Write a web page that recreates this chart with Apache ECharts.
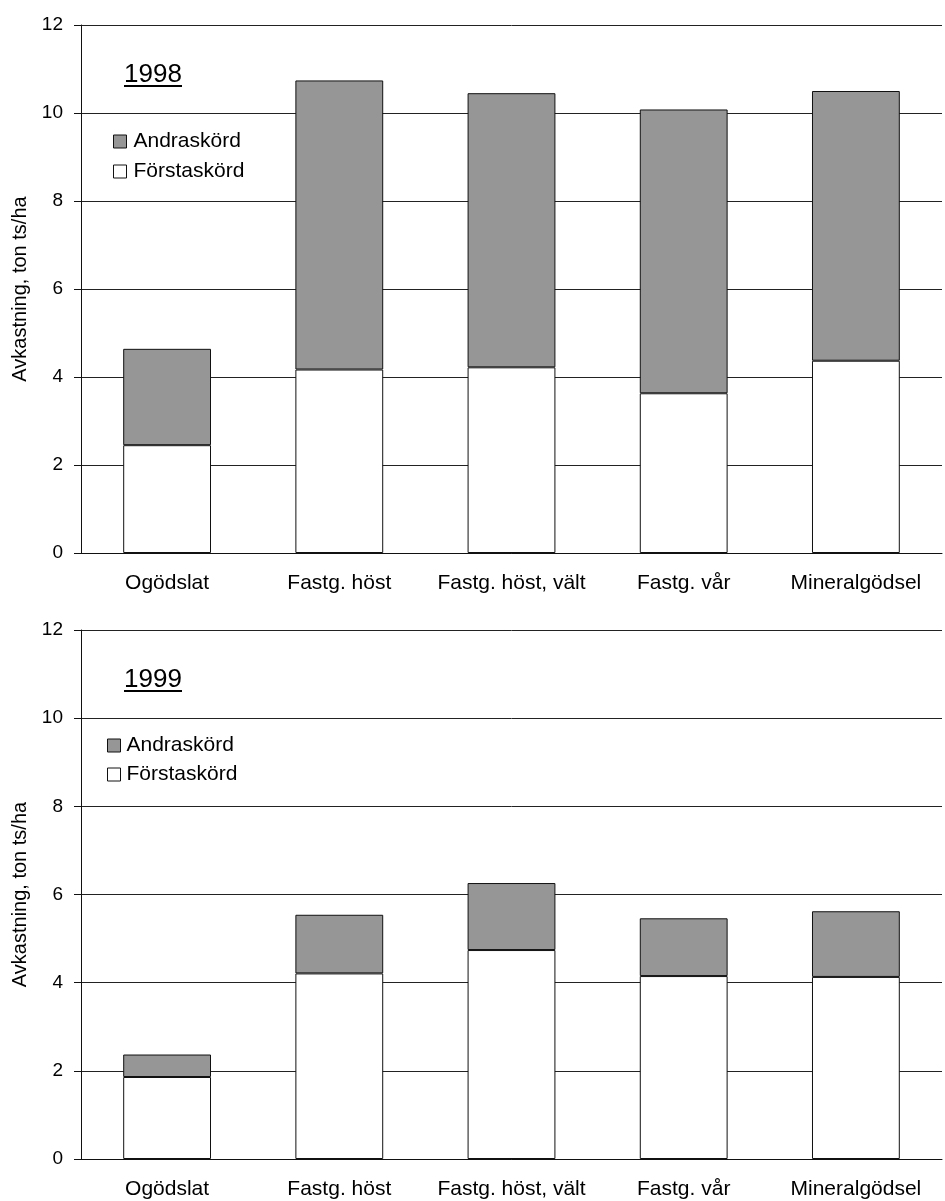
<!DOCTYPE html>
<html>
<head>
<meta charset="utf-8">
<script src="https://cdn.jsdelivr.net/npm/echarts@6/dist/echarts.min.js"></script>
<style>
html,body{margin:0;padding:0;background:#fff;}
#c{width:945px;height:1201px;}
</style>
</head>
<body>
<div id="c"></div>
<script>
const categories = ['Ogödslat', 'Fastg. höst', 'Fastg. höst, vält', 'Fastg. vår', 'Mineralgödsel'];
const yTicks = [0, 2, 4, 6, 8, 10, 12];
const first1998 = [2.45, 4.17, 4.22, 3.63, 4.37];
const second1998 = [2.19, 6.57, 6.23, 6.45, 6.13];
const first1999 = [1.86, 4.21, 4.74, 4.15, 4.13];
const second1999 = [0.51, 1.33, 1.52, 1.31, 1.49];
const years = ['1998', '1999'];

const FONT = 'Liberation Sans, Arial, sans-serif';
const chart = echarts.init(document.getElementById('c'), null, {renderer: 'canvas'});

const grids = [
  {left: 81, right: 3, top: 25, height: 528},
  {left: 81, right: 3, top: 630, height: 529}
];

function xAxis(i) {
  return {
    type: 'category', gridIndex: i, data: categories,
    axisLine: {lineStyle: {color: '#111', width: 1}},
    axisTick: {show: false},
    axisLabel: {color: '#000', fontSize: 21, fontFamily: FONT, margin: 20, interval: 0, hideOverlap: false}
  };
}
function yAxis(i) {
  return {
    type: 'value', gridIndex: i, min: yTicks[0], max: yTicks[yTicks.length - 1], interval: 2,
    name: 'Avkastning, ton ts/ha', nameLocation: 'middle', nameGap: 49,
    nameTextStyle: {color: '#000', fontSize: 20, fontFamily: FONT},
    axisLine: {show: true, lineStyle: {color: '#111', width: 1}},
    axisTick: {show: true, inside: false, length: 7, lineStyle: {color: '#111'}},
    axisLabel: {color: '#000', fontSize: 19, fontFamily: FONT, margin: 18},
    splitLine: {show: true, lineStyle: {color: '#222', width: 1}}
  };
}
function bar(name, data, i, color) {
  return {
    name: name, type: 'bar', stack: 'y' + i, xAxisIndex: i, yAxisIndex: i,
    data: data, barWidth: '51%',
    itemStyle: {color: color, borderColor: '#111', borderWidth: 1},
    emphasis: {disabled: true}
  };
}
function legend(left, top, gap, pad) {
  return {
    orient: 'vertical', left: left, top: top, padding: 0,
    itemWidth: 13, itemHeight: 13, itemGap: gap, icon: 'rect',
    data: ['Andraskörd', 'Förstaskörd'],
    itemStyle: {borderColor: '#111', borderWidth: 1},
    textStyle: {color: '#000', fontSize: 21, lineHeight: 21, fontFamily: FONT, padding: [0, 0, 0, pad]},
    selectedMode: false
  };
}
function yearLabel(text, x, top) {
  return {
    type: 'group', x: x, y: top,
    children: [
      {type: 'text', x: 0, y: 0, style: {text: text, fontSize: 26, fontFamily: FONT, fill: '#000', verticalAlign: 'top', align: 'left'}},
      {type: 'rect', shape: {x: 0, y: 23, width: 58, height: 2}, style: {fill: '#000'}}
    ]
  };
}

chart.setOption({
  animation: false,
  backgroundColor: '#fff',
  grid: grids,
  xAxis: [xAxis(0), xAxis(1)],
  yAxis: [yAxis(0), yAxis(1)],
  legend: [legend(113, 131, 9, 2), legend(107, 735, 8, 1)],
  graphic: [yearLabel(years[0], 124, 62), yearLabel(years[1], 124, 667)],
  series: [
    bar('Förstaskörd', first1998, 0, '#ffffff'),
    bar('Andraskörd', second1998, 0, '#969696'),
    bar('Förstaskörd', first1999, 1, '#ffffff'),
    bar('Andraskörd', second1999, 1, '#969696')
  ]
});
</script>
</body>
</html>
